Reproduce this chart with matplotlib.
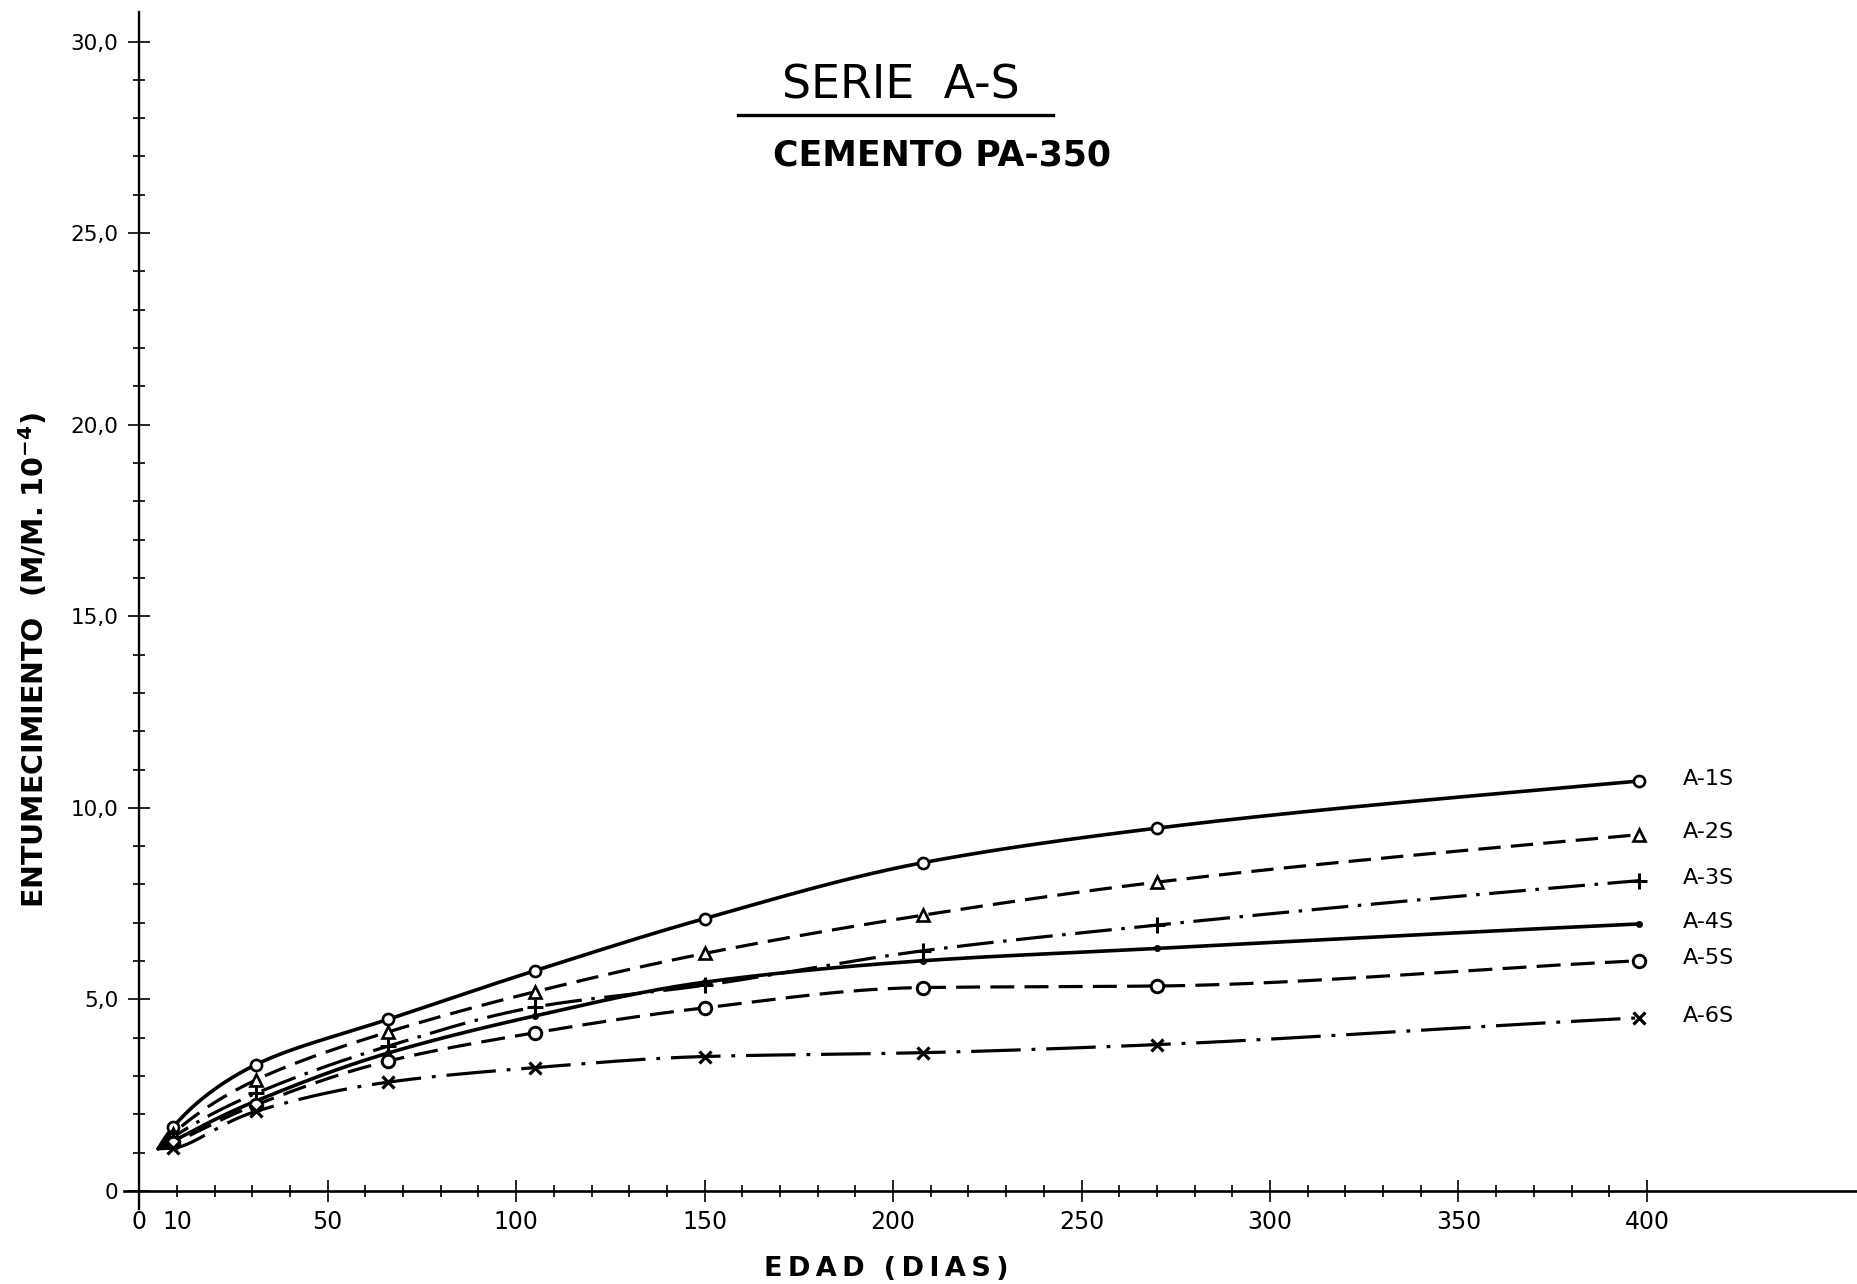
import numpy as np
import matplotlib
matplotlib.use("Agg")
import matplotlib.pyplot as plt
from matplotlib.lines import Line2D
from matplotlib.ticker import FixedLocator, MultipleLocator

# ---- data -------------------------------------------------------------
edad_dias = [9, 31, 66, 105, 150, 208, 270, 398]

series_names = ["A-1S", "A-2S", "A-3S", "A-4S", "A-5S", "A-6S"]
a1s = [1.67, 3.30, 4.48, 5.75, 7.11, 8.57, 9.47, 10.70]
a2s = [1.50, 2.90, 4.15, 5.20, 6.20, 7.20, 8.06, 9.30]
a3s = [1.40, 2.55, 3.78, 4.80, 5.37, 6.27, 6.94, 8.10]
a4s = [1.30, 2.35, 3.60, 4.57, 5.45, 6.01, 6.33, 6.97]
a5s = [1.25, 2.25, 3.39, 4.13, 4.78, 5.31, 5.35, 6.01]
a6s = [1.12, 2.08, 2.84, 3.22, 3.51, 3.61, 3.82, 4.52]

# common starting point of the drawn curves
origen_edad = 5.0
origen_valor = 1.1

x_tick_values = [0, 10, 50, 100, 150, 200, 250, 300, 350, 400]
x_tick_labels = ["0", "10", "50", "100", "150", "200", "250", "300", "350", "400"]
y_tick_values = [0, 5, 10, 15, 20, 25, 30]
y_tick_labels = ["0", "5,0", "10,0", "15,0", "20,0", "25,0", "30,0"]


def pchip(x, y, xs):
    """Monotone cubic Hermite curve through (x, y), evaluated at xs."""
    x = np.asarray(x, float)
    y = np.asarray(y, float)
    h = np.diff(x)
    d = np.diff(y) / h
    m = np.zeros_like(y)
    for k in range(1, len(x) - 1):
        if d[k - 1] * d[k] <= 0:
            m[k] = 0.0
        else:
            w1 = 2 * h[k] + h[k - 1]
            w2 = h[k] + 2 * h[k - 1]
            m[k] = (w1 + w2) / (w1 / d[k - 1] + w2 / d[k])
    m[0] = d[0]
    m[-1] = d[-1]
    idx = np.clip(np.searchsorted(x, xs) - 1, 0, len(h) - 1)
    t = (xs - x[idx]) / h[idx]
    h00 = 2 * t**3 - 3 * t**2 + 1
    h10 = t**3 - 2 * t**2 + t
    h01 = -2 * t**3 + 3 * t**2
    h11 = t**3 - t**2
    return (h00 * y[idx] + h10 * h[idx] * m[idx]
            + h01 * y[idx + 1] + h11 * h[idx] * m[idx + 1])


def curva_suave(x, y, xs):
    """Smooth curve through the measured points, built on a sqrt(age) scale."""
    return pchip(np.sqrt(np.asarray(x, float)), y, np.sqrt(xs))


# ---- figure -----------------------------------------------------------
W, H = 1858, 1284
fig = plt.figure(figsize=(W / 100, H / 100), dpi=100)
fig.patch.set_facecolor("white")

ax = fig.add_axes([124.2 / W, 1 - 1209 / H, (W - 124.2) / W, (1209 - 12) / H])
ax.set_xlim(-4, 456)
ax.set_ylim(-0.47, 30.77)

for side in ("top", "right"):
    ax.spines[side].set_visible(False)
ax.spines["left"].set_position(("data", 0))
ax.spines["bottom"].set_position(("data", 0))
ax.spines["left"].set_linewidth(1.7)
ax.spines["bottom"].set_linewidth(1.9)

ax.xaxis.set_major_locator(FixedLocator(x_tick_values))
ax.set_xticklabels(x_tick_labels)
ax.xaxis.set_minor_locator(FixedLocator(list(range(10, 401, 10))))
ax.yaxis.set_major_locator(FixedLocator(y_tick_values))
ax.set_yticklabels(y_tick_labels)
ax.yaxis.set_minor_locator(MultipleLocator(1))

ax.tick_params(axis="both", which="major", direction="inout", length=16,
               width=1.2, color="black")
ax.tick_params(axis="both", which="minor", direction="inout", length=8,
               width=1.2, color="black")
ax.tick_params(axis="x", which="major", pad=6)
ax.tick_params(axis="y", which="major", pad=7)
# the tick at 10 days carries a label but keeps the short length
ax.xaxis.get_major_ticks()[1].tick1line.set_markersize(8)

for lab in ax.get_xticklabels():
    lab.set_fontfamily(["DejaVu Sans"])
    lab.set_fontsize(17)
for lab in ax.get_yticklabels():
    lab.set_fontfamily(["DejaVu Sans"])
    lab.set_fontsize(15.5)

# ---- curves -----------------------------------------------------------
valores = [a1s, a2s, a3s, a4s, a5s, a6s]
estilos = [
    dict(ls="-", lw=2.6),
    dict(ls=(0, (7.0, 3.2)), lw=2.3),
    dict(ls=(0, (11.5, 3.0, 1.1, 3.0)), lw=2.3),
    dict(ls="-", lw=2.6),
    dict(ls=(0, (7.5, 3.2)), lw=2.3),
    dict(ls=(0, (15.5, 3.4, 1.2, 3.4)), lw=2.3),
]
marcadores = [
    dict(marker="o", ms=8, mfc="white", mew=1.9),
    dict(marker="^", ms=8, mfc="white", mew=1.9),
    dict(marker="+", ms=12, mew=2.2),
    dict(marker="o", ms=4.5, mfc="black", mew=0.5),
    dict(marker="o", ms=9, mfc="white", mew=2.1),
    dict(marker="x", ms=8, mew=2.3),
]

for nombre, vals, est, mk in zip(series_names, valores, estilos, marcadores):
    xk = [origen_edad] + edad_dias
    yk = [origen_valor] + vals
    xs = np.linspace(origen_edad, edad_dias[-1], 1000)
    ax.plot(xs, curva_suave(xk, yk, xs), color="black",
            solid_capstyle="round", dash_capstyle="butt", zorder=3, **est)
    ax.plot(edad_dias, vals, ls="none", color="black", mec="black",
            zorder=4, **mk)
    ax.text(409.5, vals[-1] + 0.06, nombre, ha="left", va="center",
            fontsize=16, family="DejaVu Sans", color="black")

# ---- titles and axis captions ----------------------------------------
def fx(px):
    return px / W


def fy(py):
    return 1 - py / H


fig.text(fx(901), fy(86), "SERIE  A-S", ha="center", va="center",
         fontsize=33, family="DejaVu Sans", color="black")
fig.add_artist(Line2D([fx(738), fx(1053)], [fy(115), fy(115)],
                      color="black", lw=2.4, transform=fig.transFigure))
fig.text(fx(942), fy(156), "CEMENTO PA-350", ha="center", va="center",
         fontsize=25, fontweight="bold", family="DejaVu Sans", color="black")

plt.rcParams["mathtext.default"] = "regular"
fig.text(fx(34), fy(660), "ENTUMECIMIENTO  (M/M. 10$^{-4}$)",
         rotation=90, ha="center", va="center", fontsize=20.5,
         fontweight="bold", family="DejaVu Sans", color="black")
thin = "\u2009"
fig.text(fx(886), fy(1269),
         thin.join("EDAD") + "  (" + thin + thin.join("DIAS") + thin + ")",
         ha="center", va="center", fontsize=19.5, fontweight="bold",
         family="DejaVu Sans", color="black")

fig.savefig("out.png", dpi=100, facecolor="white")
